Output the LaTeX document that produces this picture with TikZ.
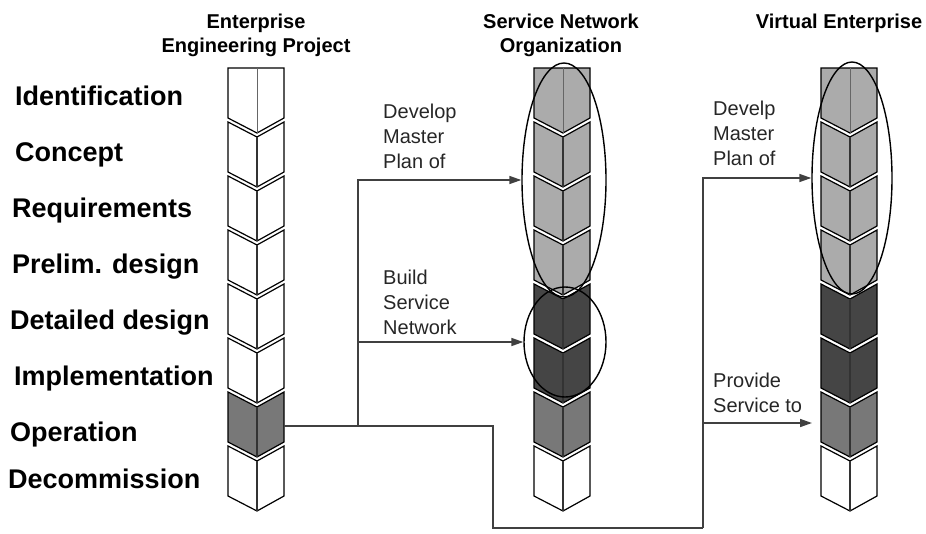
\documentclass[tikz,border=0pt]{standalone}
\usepackage{fontspec}
\setmainfont{Liberation Sans}
\usetikzlibrary{shapes.geometric,arrows.meta}

\definecolor{paleblk}{gray}{0.67}
\definecolor{midblk}{gray}{0.47}
\definecolor{darkblk}{gray}{0.27}

% One column of eight chevron blocks; #1 = left edge, #2 = fills top to bottom
\newcommand\chevstack[2]{%
  \foreach \f [count=\k from 0] in {#2}{%
    \pgfmathsetmacro\T{68+54*\k}%
    \pgfmathsetmacro\B{\T+50}%
    \pgfmathsetmacro\V{\T+65}%
    \pgfmathsetmacro\D{\T+15}%
    \ifnum\k=0
      \path[blk,fill=\f] (#1,68) -- (#1+56,68) -- (#1+56,\B) -- (#1+29,\V) -- (#1,\B) -- cycle;
      \draw[ridge,draw=black!60,line width=1pt] (#1+29,68) -- (#1+29,\V);
    \else
      \path[blk,fill=\f] (#1,\T) -- (#1+29,\D) -- (#1+56,\T) -- (#1+56,\B) -- (#1+29,\V) -- (#1,\B) -- cycle;
      \draw[ridge] (#1+29,\D) -- (#1+29,\V);
    \fi
  }}

\begin{document}
\begin{tikzpicture}[x=1pt,y=-1pt,
  blk/.style={draw=black,line width=1.2pt,line join=miter},
  ridge/.style={draw=black!80,line width=1.6pt},
  ring/.style={draw=black,line width=1.4pt,ellipse,inner sep=0pt},
  conn/.style={draw=black!75,line width=1.5pt},
  flow/.style={conn,-{Triangle[length=12pt,width=8pt]}},
  phase/.style={anchor=base west,inner sep=0pt,font=\bfseries\fontsize{27}{32}\selectfont},
  head/.style={anchor=base,inner sep=0pt,font=\bfseries\fontsize{20}{24}\selectfont},
  note/.style={anchor=north west,inner sep=0pt,align=left,text=black!85,font=\fontsize{20}{25}\selectfont}]

\useasboundingbox (0,0) rectangle (926,533);

% block columns
\chevstack{228}{white,white,white,white,white,white,midblk,white}
\chevstack{534}{paleblk,paleblk,paleblk,paleblk,darkblk,darkblk,midblk,white}
\chevstack{821}{paleblk,paleblk,paleblk,paleblk,darkblk,darkblk,midblk,white}

% groupings
\node[ring,minimum width=84pt,minimum height=234pt] (planSN) at (564,180) {};
\node[ring,minimum width=82pt,minimum height=110pt] (buildSN) at (565,342) {};
\node[ring,minimum width=80pt,minimum height=232pt] (planVE) at (852,178) {};

% connectors
\coordinate (opOut) at (284,426);
\coordinate (fork) at (358,426);
\coordinate (dropTop) at (493,426);
\coordinate (riseFoot) at (703,528);
\coordinate (provFrom) at (703,423);
\coordinate (provTo) at (812,423);

\draw[conn] (opOut) -- (dropTop) |- (riseFoot);
\draw[flow] (riseFoot) |- (planVE.west);
\draw[flow] (fork) |- (planSN.west);
\draw[flow] (fork) |- (buildSN.west);
\draw[flow] (provFrom) -- (provTo);

% column headings
\node[head] (hEEP1) at (256,28) {Enterprise};
\node[head] (hEEP2) at (256,52) {Engineering Project};
\node[head] (hSNO1) at (561,28) {Service Network};
\node[head] (hSNO2) at (561,52) {Organization};
\node[head] (hVE) at (839,28) {Virtual Enterprise};

% life-cycle phases
\node[phase] (p1) at (15,105) {Identification};
\node[phase] (p2) at (15,161) {Concept};
\node[phase] (p3) at (12,217) {Requirements};
\node[phase] (p4) at (12,273) {Prelim. design};
\node[phase] (p5) at (10,329) {Detailed design};
\node[phase] (p6) at (14,385) {Implementation};
\node[phase] (p7) at (10,441) {Operation};
\node[phase] (p8) at (8,488) {Decommission};

% connector notes
\node[note] (nPlanSN) at (383,104) {Develop\\Master\\Plan of};
\node[note] (nBuild) at (383,270) {Build\\Service\\Network};
\node[note] (nPlanVE) at (713,101) {Develp\\Master\\Plan of};
\node[note] (nProv) at (713,373) {Provide\\Service to};
\end{tikzpicture}
\end{document}
